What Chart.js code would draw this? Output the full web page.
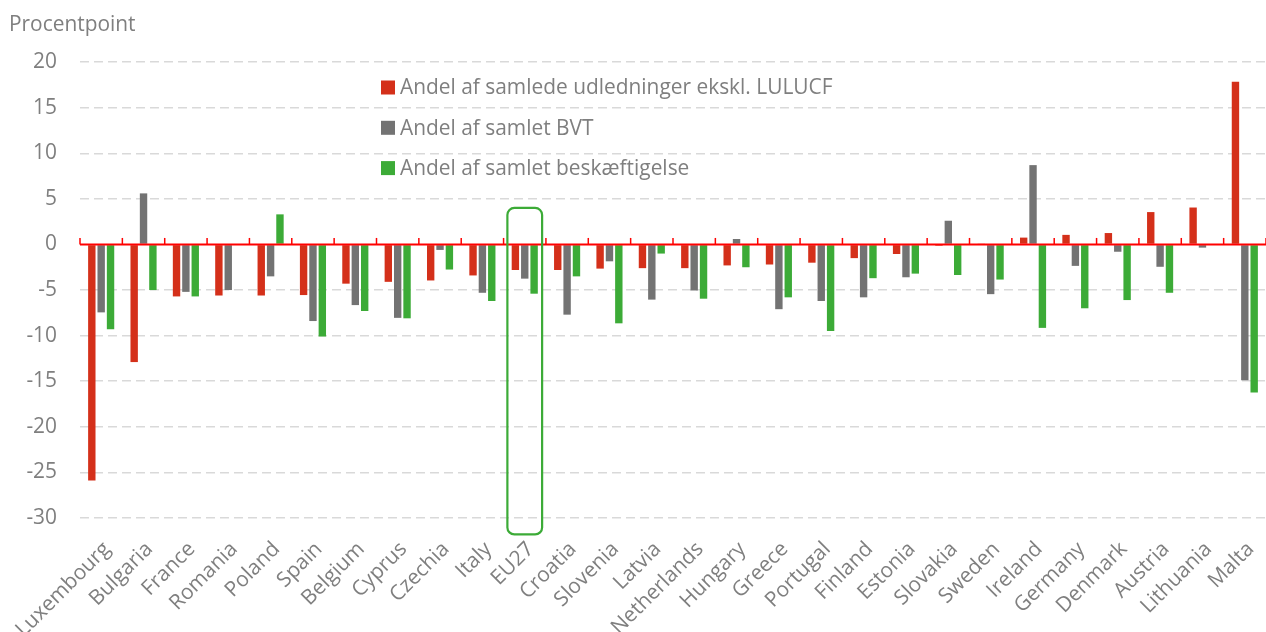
<!DOCTYPE html>
<html>
<head>
<meta charset="utf-8">
<script src="https://cdn.jsdelivr.net/npm/chart.js@4.4.1/dist/chart.umd.min.js"></script>
<style>
  html, body { margin: 0; padding: 0; background: #ffffff; }
  #wrap { width: 1266px; height: 632px; position: relative; overflow: hidden; }
</style>
</head>
<body>
<div id="wrap"><canvas id="c" width="1266" height="632"></canvas></div>
<script>
// ---------- DATA ----------
const categories = ['Luxembourg','Bulgaria','France','Romania','Poland','Spain','Belgium','Cyprus','Czechia','Italy','EU27','Croatia','Slovenia','Latvia','Netherlands','Hungary','Greece','Portugal','Finland','Estonia','Slovakia','Sweden','Ireland','Germany','Denmark','Austria','Lithuania','Malta'];

const emissionsShare = [-25.9, -12.9, -5.7, -5.6, -5.6, -5.55, -4.3, -4.1, -3.95, -3.4, -2.8, -2.8, -2.65, -2.6, -2.6, -2.3, -2.2, -2.0, -1.5, -1.05, -0.15, 0.1, 0.75, 1.05, 1.25, 3.55, 4.05, 17.85];
const gvaShare = [-7.45, 5.6, -5.2, -5.0, -3.5, -8.4, -6.65, -8.05, -0.6, -5.3, -3.75, -7.7, -1.85, -6.05, -5.05, 0.6, -7.1, -6.2, -5.8, -3.6, 2.6, -5.45, 8.7, -2.35, -0.8, -2.45, -0.35, -14.9];
const employmentShare = [-9.3, -5.0, -5.7, null, 3.3, -10.1, -7.3, -8.1, -2.75, -6.2, -5.4, -3.5, -8.65, -1.0, -5.95, -2.5, -5.8, -9.5, -3.7, -3.2, -3.35, -3.85, -9.15, -7.0, -6.1, -5.3, null, -16.25];

const seriesLabels = ['Andel af samlede udledninger ekskl. LULUCF', 'Andel af samlet BVT', 'Andel af samlet beskæftigelse'];
const axisTitle = 'Procentpoint';
const yMin = -30, yMax = 20, yStep = 5;
const highlightCategory = 'EU27';
const highlightRange = [4.0, -31.8];

// ---------- STYLE ----------
const FONT = "'Open Sans', 'DejaVu Sans', sans-serif";
const FS = 20.9;
const TEXT = '#7f7f7f';
const RED = '#d4301a', GRAY = '#737373', GREEN = '#3cab37';

const zeroLinePlugin = {
  id: 'zeroLine',
  afterDatasetsDraw(chart) {
    const { ctx, chartArea, scales: { x, y } } = chart;
    const y0 = y.getPixelForValue(0);
    const n = chart.data.labels.length;
    const w = (x.getPixelForValue(n - 1) - x.getPixelForValue(0)) / (n - 1);
    ctx.save();
    ctx.strokeStyle = '#ff0000';
    ctx.lineWidth = 2;
    ctx.beginPath();
    ctx.moveTo(chartArea.left, y0);
    ctx.lineTo(chartArea.right, y0);
    ctx.stroke();
    ctx.lineWidth = 1.5;
    for (let i = 0; i <= n; i++) {
      const px = x.getPixelForValue(0) - w / 2 + i * w;
      ctx.beginPath();
      ctx.moveTo(px, y0);
      ctx.lineTo(px, y0 - 6.5);
      ctx.stroke();
    }
    // highlight box
    const idx = chart.data.labels.indexOf(highlightCategory);
    if (idx >= 0) {
      const cx = x.getPixelForValue(idx);
      const half = w * 0.41;
      const top = y.getPixelForValue(highlightRange[0]);
      const bot = y.getPixelForValue(highlightRange[1]);
      ctx.strokeStyle = GREEN;
      ctx.lineWidth = 2.2;
      ctx.beginPath();
      if (ctx.roundRect) ctx.roundRect(cx - half, top, half * 2, bot - top, 7);
      else ctx.rect(cx - half, top, half * 2, bot - top);
      ctx.stroke();
    }
    ctx.restore();
  }
};

const legendPlugin = {
  id: 'insideLegend',
  afterDraw(chart, args, opts) {
    const ctx = chart.ctx;
    ctx.save();
    ctx.font = FS + 'px ' + FONT;
    ctx.textBaseline = 'middle';
    ctx.textAlign = 'left';
    chart.data.datasets.forEach((ds, i) => {
      const yy = opts.y + i * opts.rowGap;
      ctx.fillStyle = ds.backgroundColor;
      ctx.fillRect(opts.x, yy - opts.box / 2, opts.box, opts.box);
      ctx.fillStyle = TEXT;
      ctx.fillText(ds.label, opts.x + opts.box + opts.gap, yy + 1);
    });
    ctx.restore();
  }
};

function draw() {
  Chart.defaults.font.family = FONT;
  Chart.defaults.font.size = FS;
  Chart.defaults.color = TEXT;
  new Chart(document.getElementById('c'), {
    type: 'bar',
    data: {
      labels: categories,
      datasets: [
        { label: seriesLabels[0], data: emissionsShare, backgroundColor: RED },
        { label: seriesLabels[1], data: gvaShare, backgroundColor: GRAY },
        { label: seriesLabels[2], data: employmentShare, backgroundColor: GREEN }
      ]
    },
    options: {
      responsive: false,
      animation: false,
      categoryPercentage: 0.663,
      barPercentage: 0.79,
      layout: { padding: { left: 9, right: -6, top: 0, bottom: 0 } },
      plugins: {
        legend: { display: false },
        tooltip: { enabled: false },
        title: {
          display: true, text: axisTitle, align: 'start', color: TEXT,
          font: { size: FS, weight: 'normal' },
          padding: { top: 13, bottom: 24 }
        },
        insideLegend: { x: 381, y: 87.5, rowGap: 40.3, box: 14, gap: 5 }
      },
      scales: {
        x: {
          grid: { display: false, drawTicks: false },
          border: { display: false },
          ticks: { autoSkip: false, minRotation: 45, maxRotation: 45, padding: 19, labelOffset: 6, color: TEXT, font: { size: FS } },
          afterFit(scale) { scale.height = 114; scale.paddingLeft = 0; scale.paddingRight = 0; }
        },
        y: {
          min: yMin, max: yMax,
          ticks: { stepSize: yStep, padding: 23, color: TEXT, font: { size: FS } },
          grid: {
            drawTicks: false, lineWidth: 1.5,
            color: (c) => (c.tick && c.tick.value === 0) ? 'rgba(0,0,0,0)' : '#d9d9d9'
          },
          border: { display: false, dash: [9, 5] },
          afterFit(scale) { scale.width = 71; scale.paddingTop = 0; scale.paddingBottom = 0; }
        }
      }
    },
    plugins: [zeroLinePlugin, legendPlugin]
  });
}

if (document.fonts && document.fonts.load) {
  document.fonts.load(FS + "px 'Open Sans'").then(draw, draw);
} else { draw(); }
</script>
</body>
</html>
